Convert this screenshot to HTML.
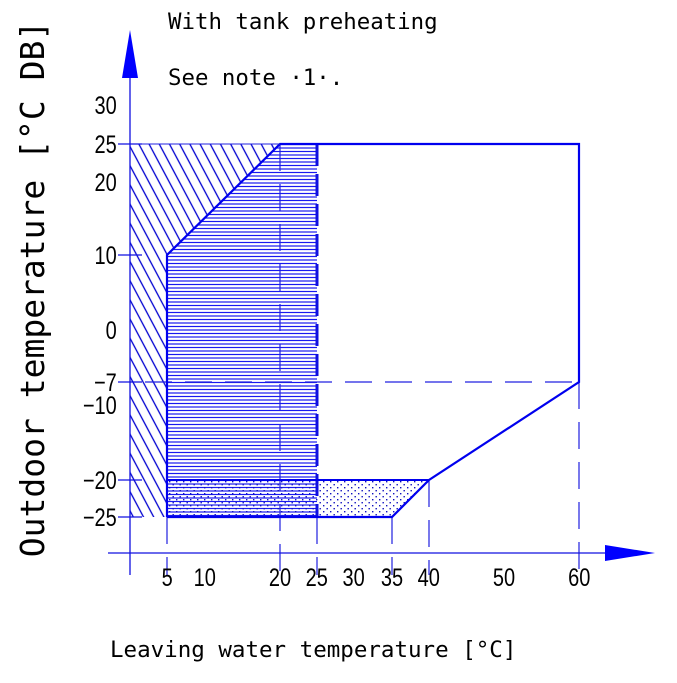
<!DOCTYPE html>
<html><head><style>
html,body{margin:0;padding:0;background:#fff;}
svg{display:block;}
.m{font-family:"DejaVu Sans Mono","Liberation Mono",monospace;fill:#000;}
.t{font-family:"Liberation Sans",sans-serif;font-size:25px;fill:#000;}
</style></head><body>
<svg width="677" height="683" viewBox="0 0 677 683" xmlns="http://www.w3.org/2000/svg">
<defs>
<pattern id="diag" patternUnits="userSpaceOnUse" width="9" height="10" patternTransform="rotate(-28)">
<line x1="1" y1="0" x2="1" y2="10" stroke="#0000d0" stroke-width="1.3"/>
</pattern>
<pattern id="hor" patternUnits="userSpaceOnUse" width="10" height="3.5">
<line x1="0" y1="1" x2="10" y2="1" stroke="#1818f0" stroke-width="1.2"/>
</pattern>
<pattern id="dots" patternUnits="userSpaceOnUse" width="7" height="6">
<rect x="1" y="1" width="1.4" height="1.4" fill="#1010c0"/>
<rect x="4.5" y="4" width="1.4" height="1.4" fill="#1010c0"/>
</pattern>
</defs>
<polygon points="130,144 280,144 167,255 167,517 130,517" fill="url(#diag)"/>
<polygon points="167,255 280,144 317,144 317,480 167,480" fill="url(#hor)"/>
<polygon points="167,480 317,480 317,517 167,517" fill="url(#hor)"/>
<polygon points="167,480 429,480 392,517 167,517" fill="url(#dots)"/>
<g stroke="#2020e0" stroke-width="1.2" fill="none" stroke-dasharray="27,13">
<line x1="145" y1="382" x2="579" y2="382"/>
<line x1="280" y1="144" x2="280" y2="575"/>
<line x1="392" y1="517" x2="392" y2="575"/>
<line x1="429" y1="480" x2="429" y2="575"/>
<line x1="579" y1="382" x2="579" y2="575"/>
<line x1="167" y1="517" x2="167" y2="575"/>
<line x1="317" y1="517" x2="317" y2="575"/>
</g>
<line x1="317" y1="144" x2="317" y2="517" stroke="#1010e0" stroke-width="3" stroke-dasharray="22,8"/>
<polyline points="167,517 167,255 280,144 579,144 579,382 429,480 392,517 167,517" fill="none" stroke="#0000ee" stroke-width="2.2"/>
<line x1="167" y1="480" x2="429" y2="480" stroke="#0000ee" stroke-width="2"/>
<line x1="130" y1="144" x2="280" y2="144" stroke="#2020e0" stroke-width="1"/>
<line x1="130" y1="70" x2="130" y2="575" stroke="#1010e0" stroke-width="1.3"/>
<polygon points="130,30 122,78 138,78" fill="#0000ff"/>
<line x1="108" y1="553" x2="610" y2="553" stroke="#1010e0" stroke-width="1.3"/>
<polygon points="655,553 605,545 605,561" fill="#0000ff"/>
<g stroke="#1010e0" stroke-width="1.2">
<line x1="118" y1="144" x2="142" y2="144"/>
<line x1="118" y1="255" x2="142" y2="255"/>
<line x1="118" y1="382" x2="142" y2="382"/>
<line x1="118" y1="480" x2="142" y2="480"/>
<line x1="118" y1="517" x2="142" y2="517"/>
</g>
<g class="t" text-anchor="end" transform="scale(0.8,1)">
<text x="146" y="114">30</text>
<text x="146" y="153">25</text>
<text x="146" y="191">20</text>
<text x="146" y="264">10</text>
<text x="146" y="339">0</text>
<text x="146" y="391">−7</text>
<text x="146" y="414">−10</text>
<text x="146" y="489">−20</text>
<text x="146" y="526">−25</text>
</g>
<g class="t" text-anchor="middle" transform="scale(0.8,1)">
<text x="209" y="586">5</text>
<text x="256" y="586">10</text>
<text x="350" y="586">20</text>
<text x="396" y="586">25</text>
<text x="442" y="586">30</text>
<text x="490" y="586">35</text>
<text x="536" y="586">40</text>
<text x="630" y="586">50</text>
<text x="724" y="586">60</text>
</g>
<text class="m" x="168" y="29" font-size="22.4">With tank preheating</text>
<text class="m" x="168" y="85" font-size="22.4">See note ·1·.</text>
<text class="m" x="110" y="657" font-size="22.5">Leaving water temperature [°C]</text>
<text class="m" font-size="33" text-anchor="middle" transform="translate(44,289) rotate(-90)">Outdoor temperature [°C DB]</text>
</svg>
</body></html>
